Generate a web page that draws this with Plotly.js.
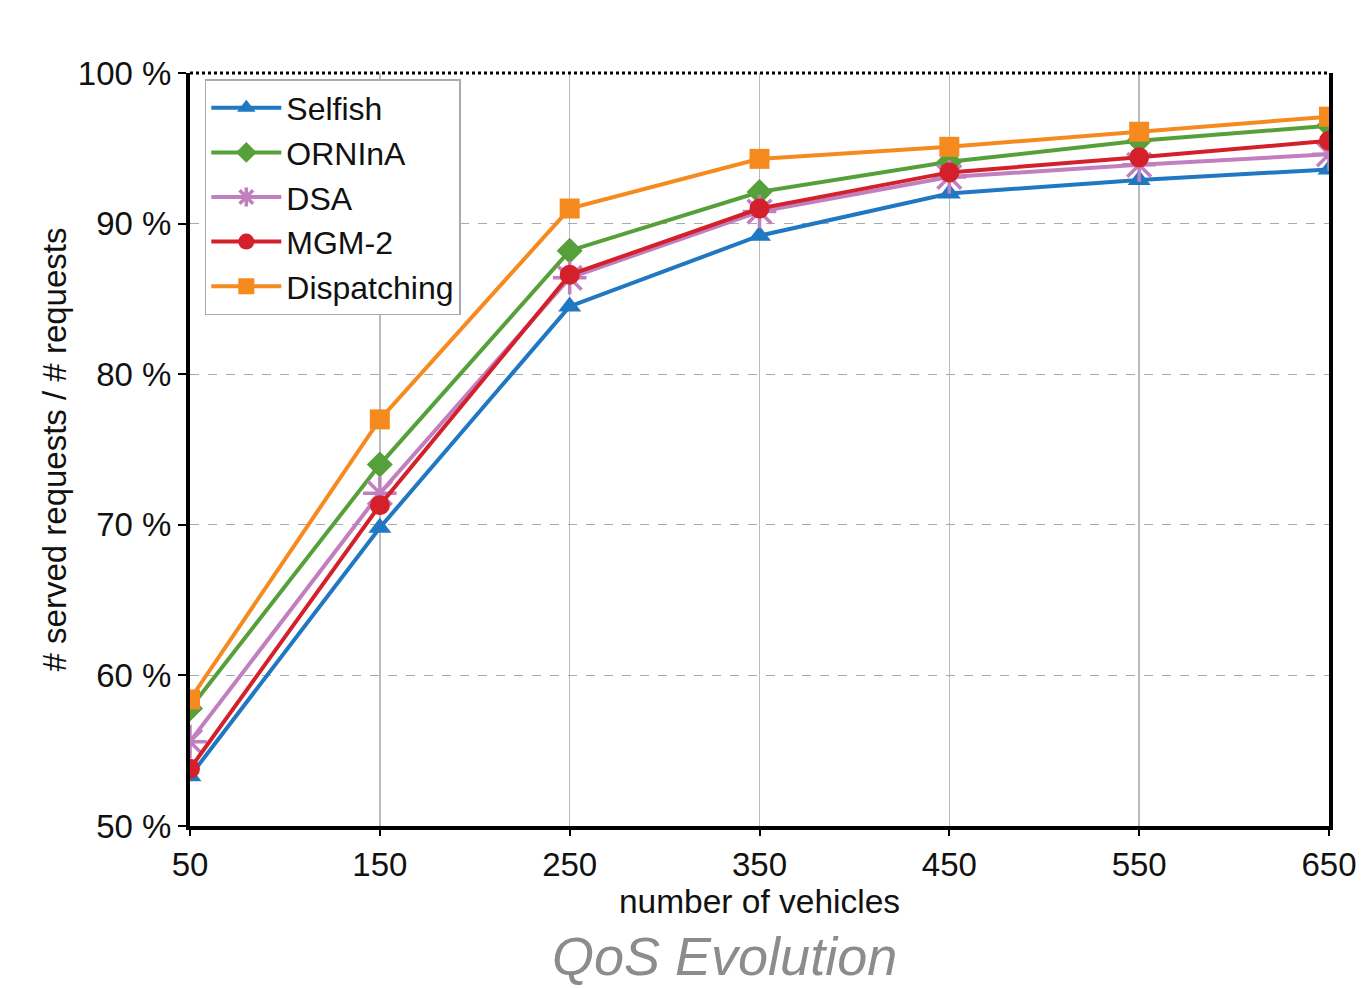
<!DOCTYPE html>
<html>
<head>
<meta charset="utf-8">
<script src="https://cdn.plot.ly/plotly-3.0.1.min.js"></script>
<style>html,body{margin:0;padding:0;background:#fff;}#chart{width:1361px;height:988px;}</style>
</head>
<body>
<div id="chart"></div>
<script>
const vehicles = [50, 150, 250, 350, 450, 550, 650];
const selfish = [53.3, 69.8, 84.5, 89.2, 92.0, 92.9, 93.6];
const orninA = [57.8, 74.0, 88.2, 92.1, 94.1, 95.5, 96.5];
const dsa = [55.6, 72.1, 86.4, 90.8, 93.1, 93.9, 94.6];
const mgm2 = [53.8, 71.3, 86.6, 91.0, 93.4, 94.4, 95.5];
const dispatching = [58.4, 77.0, 91.0, 94.3, 95.1, 96.1, 97.1];
const yTicks = [50, 60, 70, 80, 90, 100];

const FONT = 'Liberation Sans, Arial, sans-serif';
function tr(name, y, color, symbol, size) {
  return {
    x: vehicles, y: y, name: name, type: 'scatter', mode: 'lines+markers',
    line: {color: color, width: 4},
    marker: {symbol: symbol, size: size, color: color, line: {color: color, width: symbol.indexOf('asterisk') >= 0 ? 3.5 : 0}}
  };
}
const data = [
  tr('Selfish', selfish, '#1f78c1', 'triangle-up', 20),
  tr('ORNInA', orninA, '#56a03a', 'diamond', 20),
  tr('DSA', dsa, '#c27fbf', 'asterisk-open', 28),
  tr('MGM-2', mgm2, '#d3202a', 'circle', 20),
  tr('Dispatching', dispatching, '#f58a1f', 'square', 20)
];
const layout = {
  width: 1361, height: 988,
  margin: {l: 190, r: 32, t: 73, b: 162},
  paper_bgcolor: '#fff', plot_bgcolor: '#fff',
  font: {family: FONT, size: 33, color: '#111'},
  showlegend: true,
  legend: {x: 0.013, y: 0.992, xanchor: 'left', yanchor: 'top', bgcolor: '#fff',
           bordercolor: '#aaa', borderwidth: 1.5, font: {size: 32, family: FONT, color: '#111'},
           itemwidth: 70, tracegroupgap: 0},
  xaxis: {
    range: [50, 650], tickvals: vehicles, ticktext: vehicles.map(String),
    showgrid: true, gridcolor: '#bbbbbb', gridwidth: 1.5,
    showline: true, linecolor: '#000', linewidth: 4,
    ticks: 'outside', ticklen: 6, tickwidth: 2, tickcolor: '#000',
    tickfont: {size: 33}, zeroline: false,
    title: {text: 'number of vehicles', font: {size: 33.5}, standoff: 0}
  },
  yaxis: {
    range: [50, 100], tickvals: yTicks, ticktext: yTicks.map(v => v + ' %'),
    showgrid: true, gridcolor: '#aaaaaa', gridwidth: 1.2, griddash: 'dash',
    showline: true, mirror: true, linecolor: '#000', linewidth: 4,
    ticks: 'outside', ticklen: 8, tickwidth: 2, tickcolor: '#000',
    tickfont: {size: 33}, zeroline: false,
    title: {text: '# served requests / # requests', font: {size: 33}, standoff: 2}
  },
  shapes: [{type: 'line', xref: 'paper', yref: 'paper', x0: 0, x1: 1, y0: 1, y1: 1,
            line: {color: '#000', width: 3, dash: 'dot'}}],
  annotations: [{text: '<i>QoS Evolution</i>', xref: 'paper', yref: 'paper', x: 0.469, y: -0.2145,
                 xanchor: 'center', yanchor: 'bottom', showarrow: false,
                 font: {size: 54, family: FONT, color: '#8c8c8c'}}]
};
Plotly.newPlot('chart', data, layout, {displayModeBar: false, staticPlot: true});
</script>
</body>
</html>
